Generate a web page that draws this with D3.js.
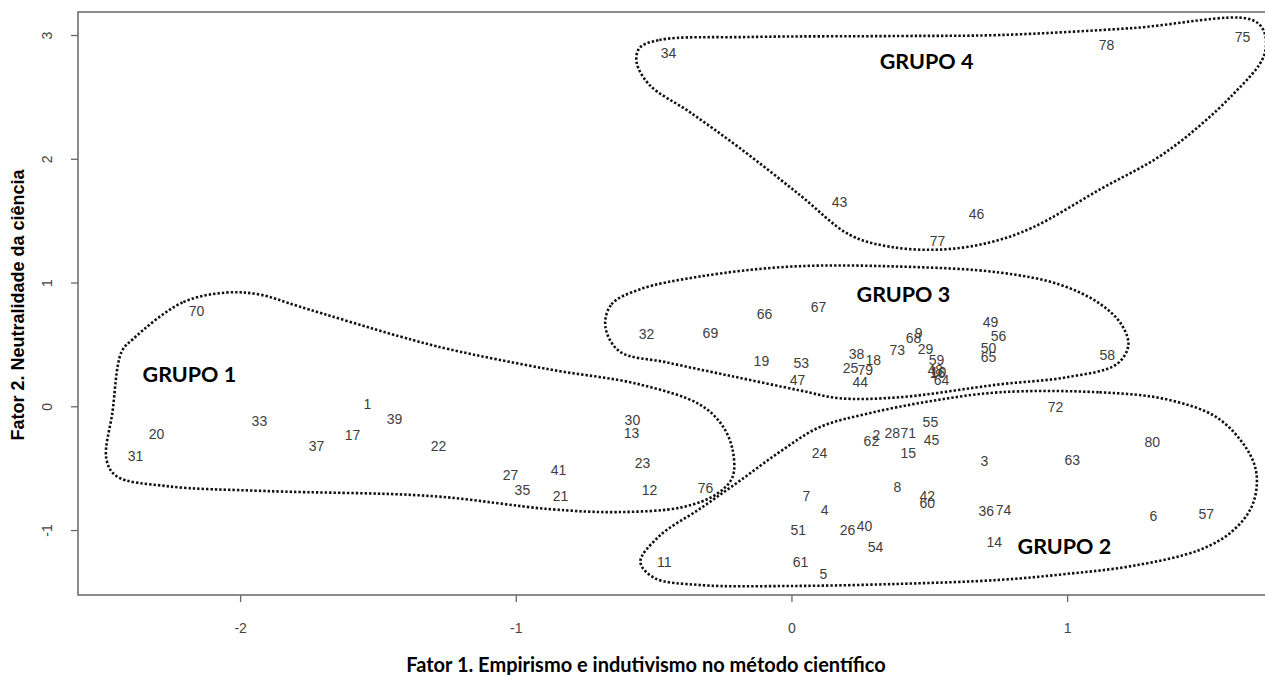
<!DOCTYPE html>
<html>
<head>
<meta charset="utf-8">
<script src="https://cdn.jsdelivr.net/npm/d3@7"></script>
<style>
  body { margin: 0; background: #fff; }
  .axis text { font-family: "Liberation Sans", Arial, sans-serif; font-size: 14px; fill: #444; }
  .axis line { stroke: #666; stroke-width: 1.3; }
  .axis path { display: none; }
  .pt { font-family: "Liberation Sans", Arial, sans-serif; font-size: 14px; fill: #3d3d3d; }
  .grp { font-family: Lato, "Open Sans", sans-serif; font-weight: bold; font-size: 21.5px; fill: #000; }
  .hull { fill: none; stroke: #111; stroke-width: 2.6; stroke-dasharray: 2.4 2; }
</style>
</head>
<body>
<svg id="chart" width="1265" height="675"></svg>
<script>
const width = 1265;
const height = 675;

// point ids and factor scores
const ids = [1,2,3,4,5,6,7,8,9,10,11,12,13,14,15,16,17,18,19,20,21,22,23,24,25,26,27,28,29,30,
  31,32,33,34,35,36,37,38,39,40,41,42,43,44,45,46,47,48,49,50,51,53,54,55,56,57,58,59,60,
  61,62,63,64,65,66,67,68,69,70,71,72,73,74,75,76,77,78,79,80];
const fator1 = [-1.538,0.308,0.700,0.120,0.116,1.313,0.054,0.384,0.461,0.533,-0.461,-0.515,-0.580,0.736,0.424,0.530,-1.592,0.297,-0.109,-2.303,
  -0.838,-1.280,-0.540,0.102,0.214,0.203,-1.019,0.366,0.486,-0.577,
  -2.379,-0.526,-1.930,-0.446,-0.976,0.707,-1.723,0.236,-1.440,0.265,-0.845,0.493,0.174,0.250,0.508,0.671,0.022,0.522,0.722,0.715,0.025,0.036,0.305,0.504,0.751,1.505,1.146,0.526,0.493,
  0.033,0.290,1.019,0.544,0.715,-0.098,0.098,0.443,-0.294,-2.158,0.424,0.958,0.384,0.769,1.636,-0.312,0.530,1.143,0.268,1.309];
const fator2 = [0.016,-0.234,-0.444,-0.839,-1.355,-0.887,-0.726,-0.653,0.589,0.274,-1.258,-0.677,-0.218,-1.097,-0.379,0.266,-0.234,0.371,0.363,-0.226,
  -0.726,-0.323,-0.460,-0.379,0.306,-1.000,-0.556,-0.218,0.460,-0.113,
  -0.403,0.581,-0.121,2.855,-0.677,-0.847,-0.323,0.419,-0.105,-0.968,-0.516,-0.726,1.653,0.194,-0.274,1.556,0.210,0.290,0.685,0.468,-1.000,0.347,-1.137,-0.129,0.565,-0.871,0.411,0.371,-0.782,
  -1.258,-0.282,-0.435,0.210,0.395,0.750,0.806,0.556,0.589,0.774,-0.218,-0.008,0.452,-0.839,2.984,-0.661,1.339,2.919,0.290,-0.290];

const xTicks = [-2, -1, 0, 1];
const yTicks = [-1, 0, 1, 2, 3];

// group names, label positions and outlines (data units)
const groupNames = ["GRUPO 1", "GRUPO 2", "GRUPO 3", "GRUPO 4"];
const groupLabelPos = [[-2.184, 0.258], [0.990, -1.129], [0.406, 0.903], [0.490, 2.790]];
const outline1 = [[-2.049,0.919],[-2.209,0.839],[-2.390,0.540],[-2.430,0.440],[-2.463,-0.048],[-2.485,-0.427],[-2.448,-0.565],
  [-2.267,-0.645],[-1.904,-0.685],[-1.302,-0.726],[-0.878,-0.831],[-0.635,-0.855],[-0.395,-0.815],[-0.272,-0.710],
  [-0.214,-0.573],[-0.214,-0.347],[-0.254,-0.145],[-0.334,0.016],[-0.551,0.177],[-0.878,0.298],[-1.240,0.460],
  [-1.422,0.565],[-1.785,0.806],[-1.930,0.903]];
const outline2 = [[0.754,0.113],[1.117,0.113],[1.360,0.056],[1.542,-0.089],[1.650,-0.339],[1.687,-0.548],[1.672,-0.798],
  [1.600,-1.008],[1.480,-1.161],[1.237,-1.290],[0.997,-1.355],[0.754,-1.403],[0.392,-1.435],[0.000,-1.452],
  [-0.334,-1.444],[-0.497,-1.387],[-0.548,-1.258],[-0.479,-1.048],[-0.334,-0.831],[-0.189,-0.605],[-0.044,-0.371],
  [0.102,-0.169],[0.283,-0.056],[0.501,0.040]];
const outline3 = [[-0.675,0.645],[-0.653,0.823],[-0.551,0.944],[-0.334,1.048],[0.000,1.129],[0.392,1.129],[0.754,1.081],
  [0.972,0.984],[1.117,0.831],[1.197,0.661],[1.222,0.492],[1.179,0.339],[0.997,0.234],[0.754,0.177],[0.392,0.073],
  [0.174,0.065],[0.029,0.129],[-0.214,0.242],[-0.453,0.355],[-0.624,0.444]];
const outline4 = [[-0.551,2.895],[-0.479,2.960],[-0.152,2.984],[0.392,2.992],[0.754,3.000],[1.237,3.056],[1.661,3.129],
  [1.712,3.040],[1.715,2.839],[1.600,2.516],[1.360,2.056],[1.117,1.750],[0.874,1.444],[0.718,1.323],[0.537,1.266],
  [0.355,1.290],[0.210,1.387],[0.029,1.710],[-0.189,2.089],[-0.370,2.379],[-0.515,2.597],[-0.562,2.782]];
const outlines = [outline1, outline2, outline3, outline4];

const margin = { top: 12, bottom: 80, left: 78, right: -2 };

let svg = d3.select("svg#chart");
const plot = svg.append("g").attr("id", "plot")
  .attr("transform", translate(margin.left, margin.top));

const plotWidth = width - margin.left - margin.right;
const plotHeight = height - margin.top - margin.bottom;

/* SCALES */
let xScale = d3.scaleLinear().domain([-2.588, 1.725]).range([0, plotWidth]);
let yScale = d3.scaleLinear().domain([-1.525, 3.186]).range([plotHeight, 0]);

/* AXES */
let xAxis = d3.axisBottom(xScale).tickValues(xTicks).tickSize(7).tickPadding(21).tickFormat(d3.format("d"));
let yAxis = d3.axisLeft(yScale).tickValues(yTicks).tickSize(7).tickFormat(d3.format("d"));

let xGroup = plot.append("g").attr("class", "axis")
  .attr("transform", translate(0, plotHeight)).call(xAxis);
xGroup.selectAll("text").text(d => d < 0 ? "-" + Math.abs(d) : d);

let yGroup = plot.append("g").attr("class", "axis").call(yAxis);
yGroup.selectAll("text")
  .text(d => d < 0 ? "-" + Math.abs(d) : d)
  .attr("x", 0).attr("dy", 0)
  .attr("text-anchor", "middle")
  .attr("transform", "translate(-26,0) rotate(-90)");

// frame
plot.append("rect")
  .attr("x", 0).attr("y", 0)
  .attr("width", plotWidth).attr("height", plotHeight)
  .style("fill", "none").style("stroke", "#6e6e6e").style("stroke-width", 1.6);

/* GROUP OUTLINES */
const hullLine = d3.line()
  .x(d => xScale(d[0]))
  .y(d => yScale(d[1]))
  .curve(d3.curveCatmullRomClosed.alpha(0.5));

plot.append("g").attr("id", "hulls")
  .selectAll("path")
  .data(outlines)
  .enter()
  .append("path")
  .attr("class", "hull")
  .attr("d", hullLine);

/* POINT LABELS */
let points = ids.map((id, i) => ({ id: id, x: fator1[i], y: fator2[i] }));

plot.append("g").attr("id", "points")
  .selectAll("text")
  .data(points)
  .enter()
  .append("text")
  .attr("class", "pt")
  .attr("x", d => xScale(d.x))
  .attr("y", d => yScale(d.y))
  .attr("dy", "0.36em")
  .attr("text-anchor", "middle")
  .text(d => d.id);

/* GROUP NAMES */
plot.append("g").attr("id", "groups")
  .selectAll("text")
  .data(groupNames)
  .enter()
  .append("text")
  .attr("class", "grp")
  .attr("x", (d, i) => xScale(groupLabelPos[i][0]))
  .attr("y", (d, i) => yScale(groupLabelPos[i][1]))
  .attr("dy", "0.36em")
  .attr("text-anchor", "middle")
  .text(d => d);

/* AXIS TITLES */
svg.append("text")
  .attr("x", 646).attr("y", 672)
  .attr("text-anchor", "middle")
  .style("font-family", "Lato, 'Open Sans', sans-serif")
  .style("font-weight", "bold")
  .style("font-size", "20px")
  .text("Fator 1. Empirismo e indutivismo no método científico");

const yTitleGroup = svg.append("g").attr("transform", translate(24, 305));
yTitleGroup.append("text")
  .attr("text-anchor", "middle")
  .attr("transform", "rotate(-90)")
  .style("font-family", "'Liberation Sans', Arial, sans-serif")
  .style("font-weight", "bold")
  .style("font-size", "18px")
  .text("Fator 2. Neutralidade da ciência");

function translate(x, y) {
  return 'translate(' + String(x) + ',' + String(y) + ')';
}
</script>
</body>
</html>
